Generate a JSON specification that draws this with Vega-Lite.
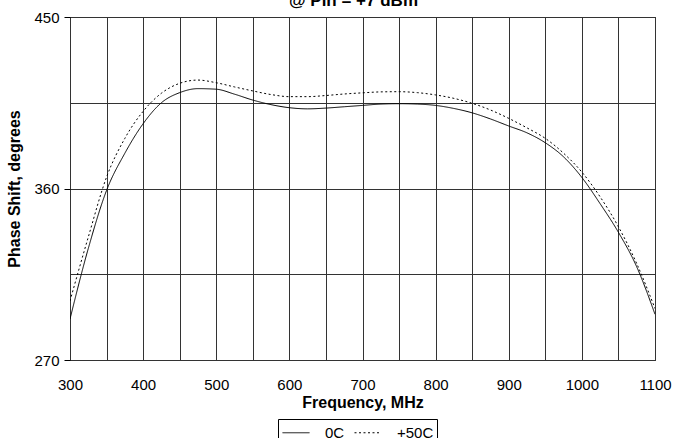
{
  "$schema": "https://vega.github.io/schema/vega-lite/v6.json",
  "autosize": "none",
  "width": 585,
  "height": 343,
  "padding": {"left": 70, "top": 17, "right": 18, "bottom": 78},
  "background": "white",
  "title": {
    "text": "@ Pin = +7 dBm",
    "anchor": "middle",
    "frame": "group",
    "baseline": "alphabetic",
    "offset": -13,
    "dx": -9,
    "fontSize": 17,
    "fontWeight": "bold",
    "font": "Liberation Sans",
    "color": "black"
  },
  "data": {
    "values": [
      {"freq": 300, "phase": 291.5, "temp": "0C"},
      {"freq": 325, "phase": 328.5, "temp": "0C"},
      {"freq": 350, "phase": 359, "temp": "0C"},
      {"freq": 375, "phase": 378.5, "temp": "0C"},
      {"freq": 400, "phase": 394, "temp": "0C"},
      {"freq": 425, "phase": 405, "temp": "0C"},
      {"freq": 450, "phase": 410.3, "temp": "0C"},
      {"freq": 475, "phase": 412.4, "temp": "0C"},
      {"freq": 500, "phase": 412.1, "temp": "0C"},
      {"freq": 525, "phase": 409.5, "temp": "0C"},
      {"freq": 550, "phase": 406.4, "temp": "0C"},
      {"freq": 575, "phase": 404, "temp": "0C"},
      {"freq": 600, "phase": 402.4, "temp": "0C"},
      {"freq": 625, "phase": 401.8, "temp": "0C"},
      {"freq": 650, "phase": 402.2, "temp": "0C"},
      {"freq": 675, "phase": 402.9, "temp": "0C"},
      {"freq": 700, "phase": 403.6, "temp": "0C"},
      {"freq": 725, "phase": 404.3, "temp": "0C"},
      {"freq": 750, "phase": 404.5, "temp": "0C"},
      {"freq": 775, "phase": 404.3, "temp": "0C"},
      {"freq": 800, "phase": 403.6, "temp": "0C"},
      {"freq": 825, "phase": 402, "temp": "0C"},
      {"freq": 850, "phase": 399.7, "temp": "0C"},
      {"freq": 875, "phase": 396.5, "temp": "0C"},
      {"freq": 900, "phase": 392.8, "temp": "0C"},
      {"freq": 925, "phase": 389.2, "temp": "0C"},
      {"freq": 950, "phase": 384, "temp": "0C"},
      {"freq": 975, "phase": 376.6, "temp": "0C"},
      {"freq": 1000, "phase": 365.8, "temp": "0C"},
      {"freq": 1025, "phase": 352, "temp": "0C"},
      {"freq": 1050, "phase": 337, "temp": "0C"},
      {"freq": 1075, "phase": 318.9, "temp": "0C"},
      {"freq": 1100, "phase": 294, "temp": "0C"},
      {"freq": 300, "phase": 301, "temp": "+50C"},
      {"freq": 325, "phase": 334.5, "temp": "+50C"},
      {"freq": 350, "phase": 366, "temp": "+50C"},
      {"freq": 375, "phase": 386.3, "temp": "+50C"},
      {"freq": 400, "phase": 400.5, "temp": "+50C"},
      {"freq": 425, "phase": 410, "temp": "+50C"},
      {"freq": 450, "phase": 415.2, "temp": "+50C"},
      {"freq": 475, "phase": 416.9, "temp": "+50C"},
      {"freq": 500, "phase": 415.5, "temp": "+50C"},
      {"freq": 525, "phase": 413.3, "temp": "+50C"},
      {"freq": 550, "phase": 411.2, "temp": "+50C"},
      {"freq": 575, "phase": 409.3, "temp": "+50C"},
      {"freq": 600, "phase": 408.2, "temp": "+50C"},
      {"freq": 625, "phase": 408.2, "temp": "+50C"},
      {"freq": 650, "phase": 408.8, "temp": "+50C"},
      {"freq": 675, "phase": 409.6, "temp": "+50C"},
      {"freq": 700, "phase": 410.2, "temp": "+50C"},
      {"freq": 725, "phase": 410.7, "temp": "+50C"},
      {"freq": 750, "phase": 410.8, "temp": "+50C"},
      {"freq": 775, "phase": 410.3, "temp": "+50C"},
      {"freq": 800, "phase": 409.1, "temp": "+50C"},
      {"freq": 825, "phase": 407.3, "temp": "+50C"},
      {"freq": 850, "phase": 404.7, "temp": "+50C"},
      {"freq": 875, "phase": 401.2, "temp": "+50C"},
      {"freq": 900, "phase": 396.8, "temp": "+50C"},
      {"freq": 925, "phase": 391.8, "temp": "+50C"},
      {"freq": 950, "phase": 386.3, "temp": "+50C"},
      {"freq": 975, "phase": 378.5, "temp": "+50C"},
      {"freq": 1000, "phase": 368.6, "temp": "+50C"},
      {"freq": 1025, "phase": 355.6, "temp": "+50C"},
      {"freq": 1050, "phase": 339.9, "temp": "+50C"},
      {"freq": 1075, "phase": 320.6, "temp": "+50C"},
      {"freq": 1100, "phase": 297, "temp": "+50C"}
    ]
  },
  "mark": {"type": "line", "interpolate": "monotone", "color": "black", "strokeWidth": 1, "clip": true},
  "encoding": {
    "x": {
      "field": "freq",
      "type": "quantitative",
      "title": "Frequency, MHz",
      "scale": {"domain": [300, 1100], "nice": false, "zero": false},
      "axis": {
        "values": [300, 350, 400, 450, 500, 550, 600, 650, 700, 750, 800, 850, 900, 950, 1000, 1050, 1100],
        "labelExpr": "datum.value % 100 == 0 ? datum.label : ''",
        "format": "d",
        "ticks": false,
        "domain": false,
        "grid": true,
        "gridColor": "#333333",
        "gridOpacity": 1,
        "labelPadding": 17,
        "labelFontSize": 15,
        "labelFont": "Liberation Sans",
        "labelColor": "black",
        "labelFlush": false,
        "labelOverlap": false,
        "titleFont": "Liberation Sans",
        "titleFontSize": 16,
        "titleFontWeight": "bold",
        "titleColor": "black",
        "titlePadding": 2
      }
    },
    "y": {
      "field": "phase",
      "type": "quantitative",
      "title": "Phase Shift, degrees",
      "scale": {"domain": [270, 450], "nice": false, "zero": false},
      "axis": {
        "values": [270, 315, 360, 405, 450],
        "labelExpr": "datum.value % 90 == 0 ? datum.label : ''",
        "format": "d",
        "domain": false,
        "grid": true,
        "gridColor": "#333333",
        "gridOpacity": 1,
        "ticks": true,
        "tickSize": 6,
        "tickColor": "black",
        "tickOpacity": {"condition": {"test": "datum.value % 90 == 0", "value": 1}, "value": 0},
        "labelPadding": 5,
        "labelFontSize": 15,
        "labelFont": "Liberation Sans",
        "labelColor": "black",
        "labelFlush": false,
        "labelOverlap": false,
        "titleFont": "Liberation Sans",
        "titleFontSize": 16,
        "titleFontWeight": "bold",
        "titleColor": "black",
        "titlePadding": 11
      }
    },
    "strokeDash": {
      "field": "temp",
      "type": "nominal",
      "scale": {"domain": ["0C", "+50C"], "range": [[1, 0], [2, 2.5]]},
      "legend": {
        "title": null,
        "orient": "none",
        "legendX": 208,
        "legendY": 402,
        "direction": "horizontal",
        "padding": 3,
        "strokeColor": "black",
        "fillColor": "white",
        "symbolType": "M-0.9,0H1.8",
        "symbolSize": 400,
        "symbolStrokeWidth": 1,
        "symbolStrokeColor": "black",
        "symbolFillColor": "transparent",
        "labelFont": "Liberation Sans",
        "labelFontSize": 15,
        "labelColor": "black",
        "labelOffset": 23,
        "columnPadding": 7
      }
    }
  },
  "config": {
    "view": {"stroke": "black", "strokeWidth": 1},
    "font": "Liberation Sans"
  }
}
